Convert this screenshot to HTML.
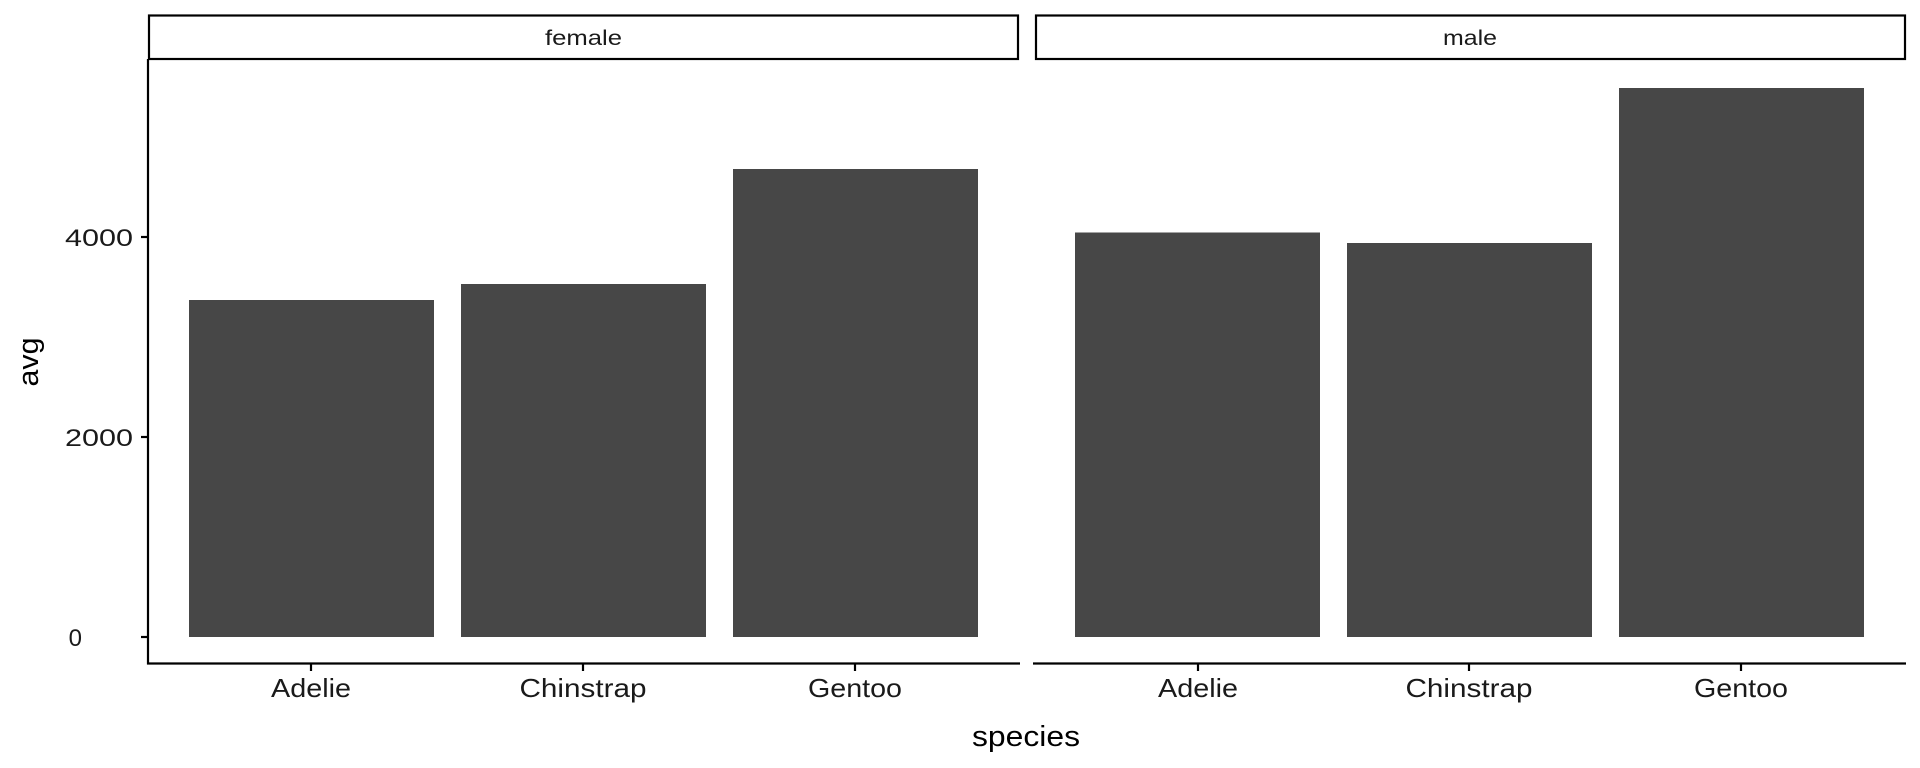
<!DOCTYPE html>
<html><head><meta charset="utf-8"><style>html,body{margin:0;padding:0;background:#fff;}svg{display:block;}</style></head>
<body>
<svg width="1920" height="768" viewBox="0 0 1920 768" xmlns="http://www.w3.org/2000/svg" font-family="Liberation Sans, sans-serif">
<rect width="1920" height="768" fill="#fff"/>
<rect x="149" y="15.5" width="869" height="43.5" fill="#fff" stroke="#000" stroke-width="2.2"/>
<rect x="1036" y="15.5" width="869" height="43.5" fill="#fff" stroke="#000" stroke-width="2.2"/>
<text x="583.5" y="45" font-size="21" text-anchor="middle" fill="#1a1a1a" textLength="77" lengthAdjust="spacingAndGlyphs">female</text>
<text x="1470" y="45" font-size="21" text-anchor="middle" fill="#1a1a1a" textLength="54" lengthAdjust="spacingAndGlyphs">male</text>
<g fill="#474747">
<rect x="189" y="300" width="245" height="337"/>
<rect x="461" y="284" width="245" height="353"/>
<rect x="733" y="169" width="245" height="468"/>
<rect x="1075" y="232.5" width="245" height="404.5"/>
<rect x="1347" y="243" width="245" height="394"/>
<rect x="1619" y="88" width="245" height="549"/>
</g>
<g stroke="#000" stroke-width="2.2" fill="none">
<line x1="148" y1="59" x2="148" y2="664.5"/>
<line x1="147" y1="663.5" x2="1020" y2="663.5"/>
<line x1="1033" y1="663.5" x2="1906" y2="663.5"/>
<line x1="141" y1="237" x2="148" y2="237"/>
<line x1="141" y1="437" x2="148" y2="437"/>
<line x1="141" y1="637" x2="148" y2="637"/>
<line x1="311" y1="663" x2="311" y2="671"/>
<line x1="583" y1="663" x2="583" y2="671"/>
<line x1="855" y1="663" x2="855" y2="671"/>
<line x1="1198" y1="663" x2="1198" y2="671"/>
<line x1="1469" y1="663" x2="1469" y2="671"/>
<line x1="1741" y1="663" x2="1741" y2="671"/>
</g>
<g font-size="24" fill="#1a1a1a" text-anchor="end">
<text x="133" y="246" textLength="68" lengthAdjust="spacingAndGlyphs">4000</text>
<text x="133" y="446" textLength="68" lengthAdjust="spacingAndGlyphs">2000</text>
<text x="82" y="646">0</text>
</g>
<g font-size="26" fill="#1a1a1a" text-anchor="middle" lengthAdjust="spacingAndGlyphs">
<text x="311" y="697" textLength="80" lengthAdjust="spacingAndGlyphs">Adelie</text>
<text x="583" y="697" textLength="127" lengthAdjust="spacingAndGlyphs">Chinstrap</text>
<text x="855" y="697" textLength="94" lengthAdjust="spacingAndGlyphs">Gentoo</text>
<text x="1198" y="697" textLength="80" lengthAdjust="spacingAndGlyphs">Adelie</text>
<text x="1469" y="697" textLength="127" lengthAdjust="spacingAndGlyphs">Chinstrap</text>
<text x="1741" y="697" textLength="94" lengthAdjust="spacingAndGlyphs">Gentoo</text>
</g>
<text x="1026" y="746" font-size="29" text-anchor="middle" fill="#000" textLength="108" lengthAdjust="spacingAndGlyphs">species</text>
<text transform="translate(38,362) rotate(-90)" font-size="29" text-anchor="middle" fill="#000" textLength="49" lengthAdjust="spacingAndGlyphs">avg</text>
</svg>
</body></html>
